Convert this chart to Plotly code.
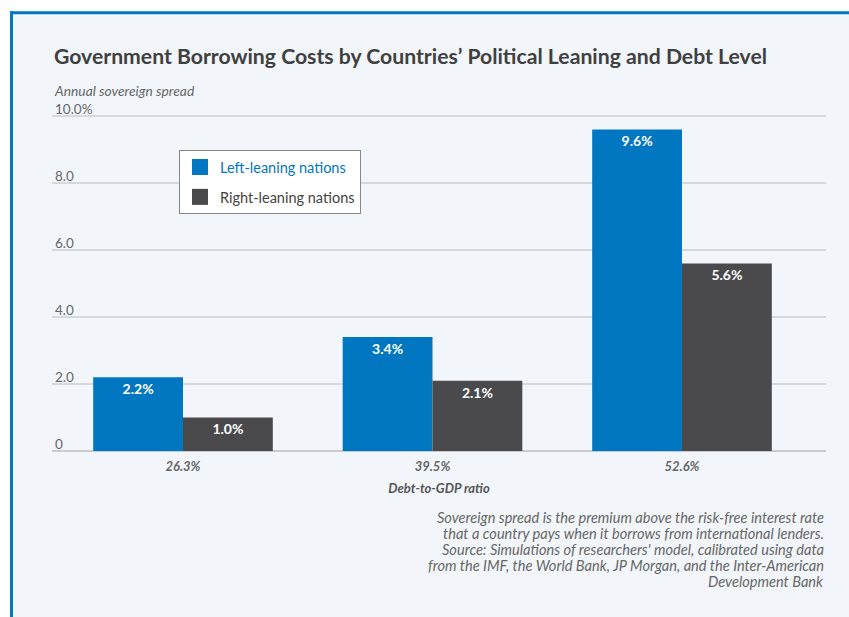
import plotly.graph_objects as go

categories = ["26.3%", "39.5%", "52.6%"]
left_vals = [2.2, 3.4, 9.6]
right_vals = [1.0, 2.1, 5.6]
left_labels = ["2.2%", "3.4%", "9.6%"]
right_labels = ["1.0%", "2.1%", "5.6%"]
series_names = ["Left-leaning nations", "Right-leaning nations"]
y_tickvals = [0, 2, 4, 6, 8, 10]
y_ticktext = ["0", "2.0", "4.0", "6.0", "8.0", "10.0%"]
footnote_lines = [
    "Sovereign spread is the premium above the risk-free interest rate",
    "that a country pays when it borrows from international lenders.",
    "Source: Simulations of researchers' model, calibrated using data",
    "from the IMF, the World Bank, JP Morgan, and the Inter-American",
    "Development Bank",
]

BLUE = "#0077c0"
DARK = "#4a4a4c"
GRAY = "#666666"
FONT = "Lato"

W, H = 849, 617
L, R = 52, 826
Y0_PX = 451             # pixel row of value 0
SCALE = 33.5            # px per unit on y
YTOP = 10.6
YBOT = -0.15
T = Y0_PX - YTOP * SCALE
B = Y0_PX - YBOT * SCALE
pw, ph = R - L, B - T


def px(x):
    return (x - L) / pw


def py(y):
    return (B - y) / ph


fig = go.Figure()
for vals, labels, color in [(left_vals, left_labels, BLUE), (right_vals, right_labels, DARK)]:
    fig.add_trace(go.Bar(
        x=categories, y=vals, showlegend=False,
        marker=dict(color=color, line=dict(width=0)),
        text=labels, textposition="inside", insidetextanchor="end",
        textfont=dict(color="white", size=14, family=FONT, weight="bold"),
    ))

# legend entries (square swatches)
for name, color, tcolor in [(series_names[0], BLUE, BLUE), (series_names[1], DARK, "#444444")]:
    fig.add_trace(go.Scatter(
        x=[None], y=[None], mode="markers", name=f"<span style='color:{tcolor}'>{name}</span>",
        legendgroup=name,
        marker=dict(symbol="square", size=18, color=color, line=dict(width=0)),
    ))

shapes = [
    dict(type="rect", xref="paper", yref="paper", x0=px(10), x1=px(849), y0=py(617), y1=py(12),
         fillcolor="#f2f6fb", line=dict(width=0), layer="below"),
    dict(type="line", xref="paper", yref="paper", x0=px(10), x1=px(849), y0=py(12.5), y1=py(12.5),
         line=dict(color=BLUE, width=3), layer="below"),
    dict(type="line", xref="paper", yref="paper", x0=px(11.5), x1=px(11.5), y0=py(617), y1=py(11),
         line=dict(color=BLUE, width=3), layer="below"),
]

annotations = [
    dict(text="<b>Government Borrowing Costs by Countries’ Political Leaning and Debt Level</b>",
         xref="paper", yref="paper", x=0, y=py(56), xanchor="left", yanchor="middle",
         showarrow=False, font=dict(family=FONT, size=21.2, color="#404040")),
    dict(text="<i>Annual sovereign spread</i>",
         xref="paper", yref="paper", x=0, y=py(90), xanchor="left", yanchor="middle",
         showarrow=False, font=dict(family=FONT, size=13.8, color=GRAY)),
]
for i, line in enumerate(footnote_lines):
    annotations.append(dict(
        text=f"<i>{line}</i>", xref="paper", yref="paper", x=1, y=py(518 + 16 * i),
        xanchor="right", yanchor="middle", align="right", showarrow=False,
        font=dict(family=FONT, size=14.6, color=GRAY)))

fig.update_layout(
    width=W, height=H,
    margin=dict(l=L, r=W - R, t=T, b=H - B, pad=0),
    paper_bgcolor="white", plot_bgcolor="rgba(0,0,0,0)",
    barmode="group", bargap=0.28, bargroupgap=0,
    showlegend=True,
    legend=dict(x=px(179), y=py(150), xanchor="left", yanchor="top",
                bgcolor="white", bordercolor="#888888", borderwidth=1,
                font=dict(family=FONT, size=14.5, color="#444444"),
                itemsizing="trace", tracegroupgap=8, itemwidth=30),
    font=dict(family=FONT, color=GRAY),
    shapes=shapes, annotations=annotations,
    xaxis=dict(range=[(L - 183) / 249.5, (R - 183) / 249.5], showgrid=False, zeroline=False,
               showline=False, ticks="", ticklabelstandoff=1,
               tickfont=dict(family=FONT, size=13, color=GRAY, style="italic", weight="bold"),
               title=dict(text="Debt-to-GDP ratio", standoff=10,
                          font=dict(family=FONT, size=13, color="#555555", style="italic", weight="bold"))),
    yaxis=dict(range=[YBOT, YTOP], tickvals=y_tickvals, ticktext=y_ticktext,
               ticklabelposition="inside top", ticklabelshift=3,
               showgrid=True, gridcolor="#d5d8dc", gridwidth=2,
               zeroline=True, zerolinecolor="#c8cbcf", zerolinewidth=2, showline=False, ticks="",
               tickfont=dict(family=FONT, size=13.5, color=GRAY)),
)

fig.write_html("out.html")
